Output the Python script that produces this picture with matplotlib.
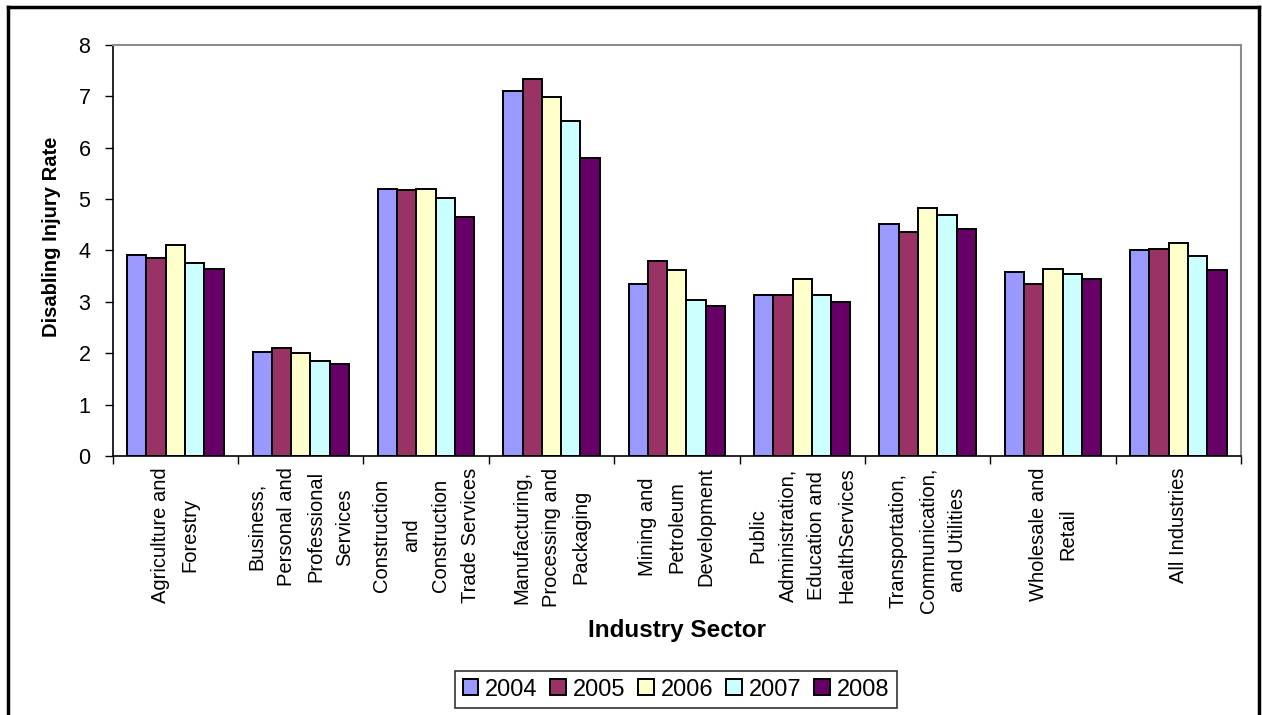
import matplotlib
matplotlib.use("Agg")
import matplotlib.pyplot as plt
from matplotlib.lines import Line2D
import numpy as np

plt.rcParams['font.family'] = ['Liberation Sans', 'DejaVu Sans']

# Industry sectors (wrapped as they appear under the axis)
sectors = [
    "Agriculture and\nForestry",
    "Business,\nPersonal and\nProfessional\nServices",
    "Construction\nand\nConstruction\nTrade Services",
    "Manufacturing,\nProcessing and\nPackaging",
    "Mining and\nPetroleum\nDevelopment",
    "Public\nAdministration,\nEducation and\nHealthServices",
    "Transportation,\nCommunication,\nand Utilities",
    "Wholesale and\nRetail",
    "All Industries",
]

years = ["2004", "2005", "2006", "2007", "2008"]

rate_2004 = [3.92, 2.03, 5.20, 7.10, 3.34, 3.13, 4.52, 3.58, 4.00]
rate_2005 = [3.86, 2.10, 5.17, 7.34, 3.80, 3.13, 4.35, 3.34, 4.03]
rate_2006 = [4.10, 2.00, 5.20, 6.99, 3.62, 3.45, 4.82, 3.65, 4.14]
rate_2007 = [3.76, 1.86, 5.03, 6.52, 3.03, 3.13, 4.69, 3.54, 3.89]
rate_2008 = [3.65, 1.79, 4.65, 5.80, 2.93, 2.99, 4.42, 3.45, 3.62]

y_ticks = [0, 1, 2, 3, 4, 5, 6, 7, 8]

series = [rate_2004, rate_2005, rate_2006, rate_2007, rate_2008]
colors = ["#9999FF", "#993366", "#FFFFCC", "#CCFFFF", "#660066"]

W, H = 1262, 715
fig = plt.figure(figsize=(W / 100, H / 100), dpi=100)
ax = fig.add_axes([112.7 / W, 1 - 456.3 / H, (1241 - 112.7) / W, (456.3 - 44.7) / H])

x = np.arange(len(sectors))
bar_w = 1 / (len(series) + 1.5)
for i, (vals, col, yr) in enumerate(zip(series, colors, years)):
    offs = (i - (len(series) - 1) / 2) * bar_w
    ax.bar(x + offs, vals, width=bar_w, color=col, edgecolor="black",
           linewidth=1.4, label=yr, zorder=2)

ax.set_xlim(-0.5, len(sectors) - 0.5)
ax.set_ylim(0, 8)
ax.set_yticks(y_ticks)
ax.set_yticklabels([str(t) for t in y_ticks], fontsize=15.5)
ax.tick_params(axis="y", direction="out", length=6, width=1, pad=10, colors="black")

# category boundaries as tick marks, names centred between them
ax.set_xticks(np.arange(-0.5, len(sectors), 1.0))
ax.set_xticklabels([])
ax.tick_params(axis="x", which="major", direction="out", length=6, width=1)
ax.set_xticks(x, minor=True)
ax.set_xticklabels(sectors, minor=True, rotation=90, fontsize=14.5,
                   multialignment="center", linespacing=1.7)
ax.tick_params(axis="x", which="minor", length=0, pad=8)

for side in ("top", "right"):
    ax.spines[side].set_color("#8c8c8c")
    ax.spines[side].set_linewidth(1.5)
for side in ("left", "bottom"):
    ax.spines[side].set_color("black")
    ax.spines[side].set_linewidth(1.2)

fig.text(52 / W, 1 - 237 / H, "Disabling Injury Rate", rotation=90,
         ha="center", va="center", fontsize=14.5, fontweight="bold")
fig.text(677 / W, 1 - 630 / H, "Industry Sector", ha="center", va="center",
         fontsize=17.5, fontweight="bold")

leg = fig.legend(loc="center", bbox_to_anchor=(676 / W, 1 - 689.5 / H), ncol=5,
                 fontsize=17, frameon=True, fancybox=False, handlelength=0.65,
                 handleheight=0.65, handletextpad=0.3, columnspacing=0.55,
                 borderpad=0.3, borderaxespad=0)
leg.get_frame().set_edgecolor("black")
leg.get_frame().set_linewidth(1.2)

# outer chart border (open at the bottom)
fig.add_artist(Line2D([8 / W, 8 / W], [0, 1 - 6.5 / H], transform=fig.transFigure,
                      color="black", linewidth=2.5))
fig.add_artist(Line2D([8 / W, 1258.5 / W], [1 - 6.5 / H, 1 - 6.5 / H],
                      transform=fig.transFigure, color="black", linewidth=2.5))
fig.add_artist(Line2D([1258.5 / W, 1258.5 / W], [0, 1 - 6.5 / H],
                      transform=fig.transFigure, color="black", linewidth=2.5))

fig.savefig("out.png", dpi=100)
